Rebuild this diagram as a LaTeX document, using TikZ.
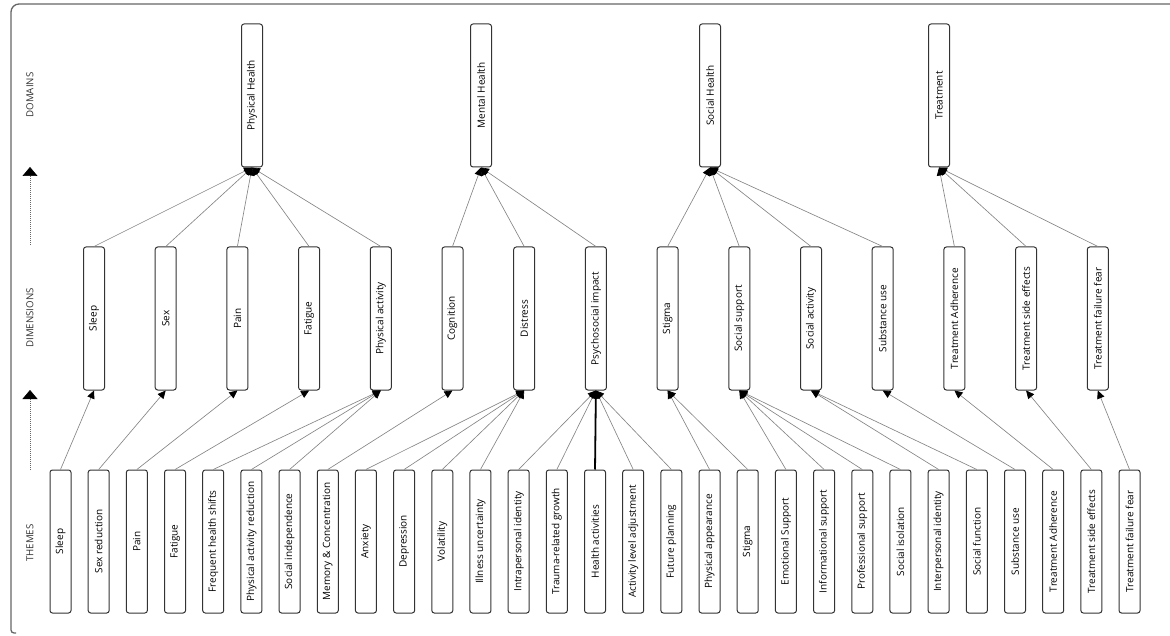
\documentclass[tikz,border=0pt]{standalone}
\usepackage{fontspec}
\setmainfont{Open Sans}
\usetikzlibrary{arrows.meta}
\definecolor{edgegray}{HTML}{858585}
\definecolor{boxdraw}{HTML}{333333}
\begin{document}
\begin{tikzpicture}[x=1pt,y=1pt,
  box/.style={draw=boxdraw, line width=1pt, rounded corners=2.5pt, fill=white,
    minimum width=21pt, minimum height=143pt, inner sep=0pt,
    font=\fontsize{10}{12}\selectfont, text=black},
  edge/.style={draw=edgegray, line width=0.65pt, -{Triangle[length=8pt,width=7.5pt,color=black]}},
  strongedge/.style={draw=black, line width=1.8pt, -{Triangle[length=8pt,width=8pt,color=black]}},
  levellabel/.style={font=\fontsize{9.7}{12}\selectfont, text=black!80, inner sep=0pt},
  levelarrow/.style={draw=black!60, line width=0.5pt, dash pattern=on 1.2pt off 0.8pt,
    -{Triangle[length=9pt,width=15pt,color=black]}},
  frame/.style={draw=black!60, line width=1.3pt}]
\useasboundingbox (0,0) rectangle (1170,-636);
% frame
\draw[frame] (1170,-4) -- (19,-4) arc[start angle=90,end angle=180,radius=8] -- (11,-630)
  arc[start angle=180,end angle=270,radius=3] -- (16,-633);
% level labels
\node[levellabel, rotate=90] (lDom) at (30,-95) {DOMAINS};
\node[levellabel, rotate=90] (lDim) at (30,-318) {DIMENSIONS};
\node[levellabel, rotate=90] (lThe) at (30,-543) {THEMES};
\coordinate (a1s) at (30,-245);
\coordinate (a1e) at (30,-167);
\coordinate (a2s) at (30,-470);
\coordinate (a2e) at (30,-390);
\draw[levelarrow] (a1s) -- (a1e);
\draw[levelarrow] (a2s) -- (a2e);
% domains
\foreach \x/\t [count=\i] in {252/Physical Health, 481/Mental Health, 710/Social Health, 939/Treatment}
  \node[box] (D\i) at (\x,-95.5) {\rotatebox{90}{\t}};
% dimensions
\foreach \t [count=\i] in {Sleep, Sex, Pain, Fatigue, Physical activity, Cognition, Distress,
  Psychosocial impact, Stigma, Social support, Social activity, Substance use,
  Treatment Adherence, Treatment side effects, Treatment failure fear}
  \node[box] (d\i) at ({94+71.7*(\i-1)},-318.5) {\rotatebox{90}{\t}};
% themes
\foreach \t [count=\i] in {Sleep, Sex reduction, Pain, Fatigue, Frequent health shifts,
  Physical activity reduction, Social independence, Memory \& Concentration, Anxiety,
  Depression, Volatility, Illness uncertainty, Intrapersonal identity, Trauma-related growth,
  Health activities, Activity level adjustment, Future planning, Physical appearance, Stigma,
  Emotional Support, Informational support, Professional support, Social isolation,
  Interpersonal identity, Social function, Substance use, Treatment Adherence,
  Treatment side effects, Treatment failure fear}
  \node[box] (t\i) at ({60.5+38.18*(\i-1)},-541.5) {\rotatebox{90}{\t}};
% theme -> dimension
\foreach \a/\b in {1/1,2/2,3/3,4/4,5/5,6/5,7/5,8/6,9/7,10/7,11/7,12/7,13/8,14/8,16/8,17/8,
  18/9,19/9,20/10,21/10,22/10,23/10,24/11,25/11,26/12,27/13,28/14,29/15}
  \draw[edge] (t\a.north) -- (d\b.south);
\draw[strongedge] (t15.north) -- (d8.south);
% dimension -> domain
\foreach \a/\b in {1/1,2/1,3/1,4/1,5/1,6/2,7/2,8/2,9/3,10/3,11/3,12/3,13/4,14/4,15/4}
  \draw[edge] (d\a.north) -- (D\b.south);
\end{tikzpicture}
\end{document}
